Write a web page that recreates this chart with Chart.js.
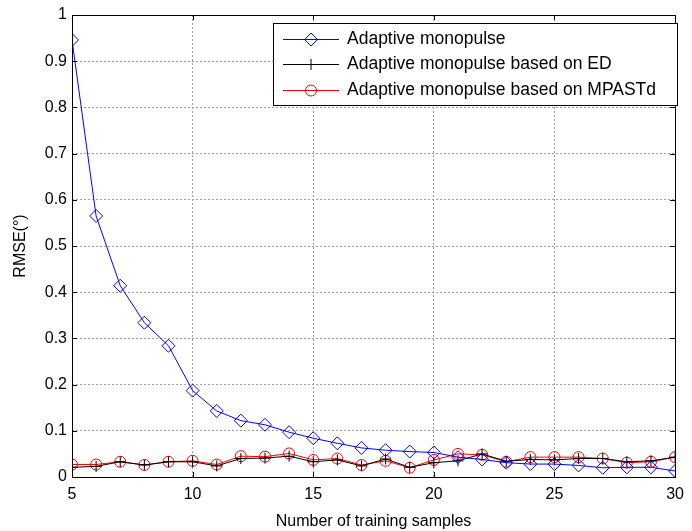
<!DOCTYPE html>
<html>
<head>
<meta charset="utf-8">
<script src="https://cdn.jsdelivr.net/npm/chart.js@4/dist/chart.umd.min.js"></script>
<style>
  html, body { margin: 0; padding: 0; background: #fff; }
  #wrap { width: 692px; height: 531px; }
</style>
</head>
<body>
<div id="wrap"><canvas id="c" width="692" height="531"></canvas></div>
<script>
const samples = [5,6,7,8,9,10,11,12,13,14,15,16,17,18,19,20,21,22,23,24,25,26,27,28,29,30];
const adaptive = [0.946,0.565,0.414,0.334,0.284,0.187,0.143,0.122,0.113,0.097,0.084,0.073,0.063,0.058,0.055,0.053,0.043,0.038,0.031,0.028,0.028,0.025,0.020,0.021,0.021,0.013];
const basedED = [0.021,0.023,0.033,0.026,0.033,0.033,0.024,0.040,0.041,0.045,0.033,0.037,0.024,0.039,0.021,0.031,0.035,0.050,0.034,0.038,0.037,0.040,0.040,0.033,0.035,0.043];
const basedMPASTd = [0.027,0.027,0.033,0.026,0.033,0.035,0.027,0.045,0.044,0.051,0.037,0.040,0.026,0.035,0.020,0.037,0.050,0.048,0.033,0.043,0.043,0.043,0.040,0.031,0.033,0.043];
const seriesNames = ['Adaptive monopulse','Adaptive monopulse based on ED','Adaptive monopulse based on MPASTd'];
const xTicks = [5,10,15,20,25,30];
const yTicks = [0,0.1,0.2,0.3,0.4,0.5,0.6,0.7,0.8,0.9,1];

const FONT = '"Liberation Sans", Arial, sans-serif';

function pts(arr){ return samples.map((x,i)=>({x:x, y:arr[i]})); }

const frameTicks = {
  id: 'frameTicks',
  afterDraw(chart) {
    const {ctx, chartArea:a, scales:{x, y}} = chart;
    ctx.save();
    ctx.strokeStyle = '#000';
    ctx.lineWidth = 1;
    const L = 5;
    xTicks.forEach(v => {
      const px = Math.round(x.getPixelForValue(v)) + 0.5;
      ctx.beginPath();
      ctx.moveTo(px, a.bottom); ctx.lineTo(px, a.bottom - L);
      ctx.moveTo(px, a.top); ctx.lineTo(px, a.top + L);
      ctx.stroke();
    });
    yTicks.forEach(v => {
      const py = Math.round(y.getPixelForValue(v)) + 0.5;
      ctx.beginPath();
      ctx.moveTo(a.left, py); ctx.lineTo(a.left + L, py);
      ctx.moveTo(a.right, py); ctx.lineTo(a.right - L, py);
      ctx.stroke();
    });
    ctx.strokeRect(Math.round(a.left)+0.5, Math.round(a.top)+0.5, Math.round(a.right-a.left), Math.round(a.bottom-a.top));
    ctx.restore();
  }
};

function drawMarker(ctx, style, x, y, r, color) {
  ctx.strokeStyle = color;
  ctx.lineWidth = 1;
  ctx.beginPath();
  if (style === 'rectRot') {
    ctx.moveTo(x, y - r); ctx.lineTo(x + r, y); ctx.lineTo(x, y + r); ctx.lineTo(x - r, y); ctx.closePath();
  } else if (style === 'circle') {
    ctx.arc(x, y, r, 0, Math.PI * 2);
  } else if (style === 'cross') {
    ctx.moveTo(x - r, y); ctx.lineTo(x + r, y); ctx.moveTo(x, y - r); ctx.lineTo(x, y + r);
  }
  ctx.stroke();
}

const boxLegend = {
  id: 'boxLegend',
  afterDraw(chart) {
    const ctx = chart.ctx;
    const left = 273, top = 23, right = 677, bottom = 105;
    ctx.save();
    ctx.fillStyle = '#fff';
    ctx.fillRect(left, top, right - left, bottom - top);
    ctx.strokeStyle = '#000';
    ctx.lineWidth = 1;
    ctx.strokeRect(left + 0.5, top + 0.5, right - left, bottom - top);
    const rows = [39, 64, 90];
    chart.data.datasets.forEach((ds, i) => {
      const yy = rows[i] + 0.5;
      ctx.strokeStyle = ds.borderColor;
      ctx.lineWidth = 1;
      ctx.beginPath(); ctx.moveTo(283, yy); ctx.lineTo(339, yy); ctx.stroke();
      drawMarker(ctx, ds.pointStyle, 311, yy, ds.pointRadius, ds.borderColor);
      ctx.fillStyle = '#000';
      ctx.font = '17.5px ' + FONT;
      ctx.textBaseline = 'middle';
      ctx.textAlign = 'left';
      ctx.fillText(ds.label, 347, rows[i]);
    });
    ctx.restore();
  }
};

new Chart(document.getElementById('c'), {
  type: 'line',
  data: {
    datasets: [
      { label: seriesNames[0], data: pts(adaptive), borderColor: '#0000ff', backgroundColor: 'rgba(0,0,0,0)',
        pointStyle: 'rectRot', pointRadius: 6.5, pointBorderWidth: 1, borderWidth: 1, tension: 0 },
      { label: seriesNames[1], data: pts(basedED), borderColor: '#000000', backgroundColor: 'rgba(0,0,0,0)',
        pointStyle: 'cross', pointRadius: 5.5, pointBorderWidth: 1, borderWidth: 1, tension: 0 },
      { label: seriesNames[2], data: pts(basedMPASTd), borderColor: '#ff0000', backgroundColor: 'rgba(0,0,0,0)',
        pointStyle: 'circle', pointRadius: 5.5, pointBorderWidth: 1, borderWidth: 1, tension: 0 }
    ]
  },
  options: {
    responsive: false,
    animation: false,
    devicePixelRatio: 1,
    layout: { padding: { left: 0, top: 15, right: 10, bottom: 0 } },
    plugins: { legend: { display: false }, tooltip: { enabled: false } },
    scales: {
      x: {
        type: 'linear', min: 5, max: 30,
        afterBuildTicks: s => { s.ticks = xTicks.map(v => ({value: v})); },
        afterFit: s => { s.height = 54; },
        ticks: { color: '#000', font: { family: FONT, size: 16 }, padding: 8, maxRotation: 0 },
        grid: { color: '#a0a0a0', lineWidth: 1, drawTicks: false },
        border: { display: false, dash: [2, 2] },
        title: { display: true, text: 'Number of training samples', color: '#000', font: { family: FONT, size: 16 }, padding: { top: 0, bottom: 0 } }
      },
      y: {
        type: 'linear', min: 0, max: 1,
        afterBuildTicks: s => { s.ticks = yTicks.map(v => ({value: v})); },
        afterFit: s => { s.width = 72; },
        ticks: { color: '#000', font: { family: FONT, size: 16 }, padding: 5, callback: v => String(v) },
        grid: { color: '#a0a0a0', lineWidth: 1, drawTicks: false },
        border: { display: false, dash: [2, 2] },
        title: { display: true, text: 'RMSE(°)', color: '#000', font: { family: FONT, size: 16 }, padding: { top: 11, bottom: 4 } }
      }
    }
  },
  plugins: [frameTicks, boxLegend]
});
</script>
</body>
</html>
